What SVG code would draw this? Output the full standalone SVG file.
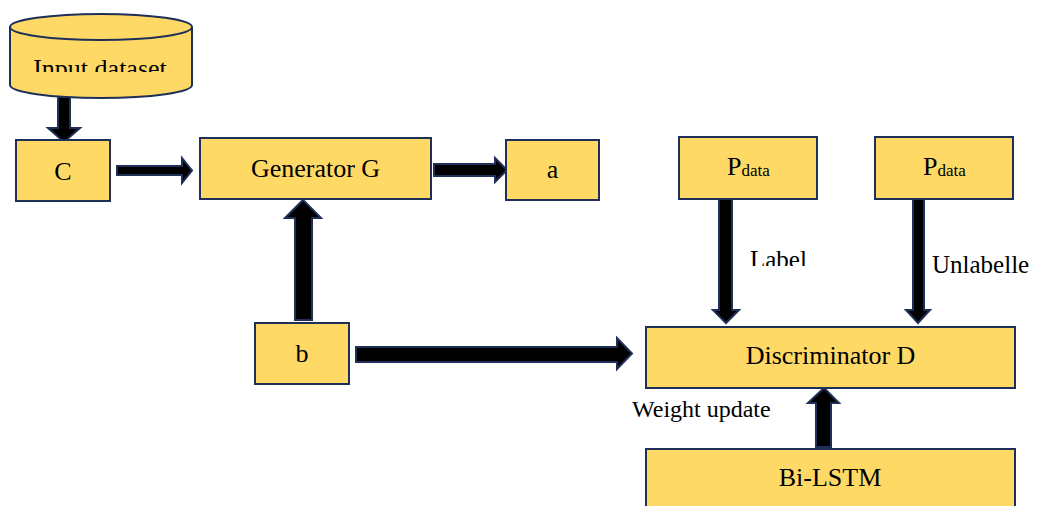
<svg xmlns="http://www.w3.org/2000/svg" width="1038" height="506" viewBox="0 0 1038 506">
  <style>
    .box { fill: #FFD966; stroke: #1F3058; stroke-width: 2; }
    .arrow { fill: #000000; stroke: #1F3058; stroke-width: 2; stroke-linejoin: miter; }
    .t { font-family: "Liberation Serif", "Times New Roman", serif; font-size: 26px; fill: #000000; }
    .sub { font-size: 17px; }
    .lbl { font-family: "Liberation Serif", "Times New Roman", serif; font-size: 25px; fill: #000000; }
  </style>
  <defs>
    <clipPath id="clip-input"><rect x="0" y="0" width="200" height="72"/></clipPath>
    <clipPath id="clip-label"><rect x="740" y="230" width="90" height="36"/></clipPath>
  </defs>
  <rect width="1038" height="506" fill="#ffffff"/>

  <!-- connectors -->
  <g id="connectors">
    <polygon class="arrow" points="58,97 70,97 70,128 80,128 64,142 48,128 58,128"/>
    <polygon class="arrow" points="117,166 182,166 182,158 192,170.5 182,183 182,175 117,175"/>
    <polygon class="arrow" points="434,164 495,164 495,158 507,170 495,182 495,176 434,176"/>
    <polygon class="arrow" points="295,320 312,320 312,218 321,218 303,200 285,218 295,218"/>
    <polygon class="arrow" points="356,347 617,347 617,338 632,353.5 617,369 617,362 356,362"/>
    <polygon class="arrow" points="719,199 732,199 732,310 739,310 726,323 713,310 719,310"/>
    <polygon class="arrow" points="913,199 924,199 924,310 930,310 918,323 906,310 913,310"/>
    <polygon class="arrow" points="816,447 831,447 831,403 839,403 824,388 808,403 816,403"/>
  </g>

  <!-- input dataset cylinder -->
  <g id="input-dataset">
    <path class="box" d="M10,27 L10,85 A91,13 0 0 0 192,85 L192,27"/>
    <ellipse class="box" cx="101" cy="27" rx="91" ry="13"/>
    <text class="t" x="100" y="77" text-anchor="middle" clip-path="url(#clip-input)">Input dataset</text>
  </g>

  <g id="node-c">
    <rect class="box" x="16" y="140" width="94" height="61"/>
    <text class="t" x="63" y="180" text-anchor="middle">C</text>
  </g>

  <g id="generator">
    <rect class="box" x="200" y="138" width="231" height="61"/>
    <text class="t" x="315.5" y="177" text-anchor="middle">Generator G</text>
  </g>

  <g id="node-a">
    <rect class="box" x="506" y="140" width="93" height="60"/>
    <text class="t" x="552.5" y="178" text-anchor="middle">a</text>
  </g>

  <g id="pdata-labelled">
    <rect class="box" x="679" y="137" width="138" height="62"/>
    <text class="t" x="727" y="175">P<tspan class="sub" dy="1">data</tspan></text>
  </g>

  <g id="pdata-unlabelled">
    <rect class="box" x="875" y="137" width="138" height="62"/>
    <text class="t" x="923" y="175">P<tspan class="sub" dy="1">data</tspan></text>
  </g>

  <g id="node-b">
    <rect class="box" x="255" y="323" width="94" height="61"/>
    <text class="t" x="302" y="362" text-anchor="middle">b</text>
  </g>

  <g id="discriminator">
    <rect class="box" x="646" y="327" width="369" height="61"/>
    <text class="t" x="830.5" y="364" text-anchor="middle">Discriminator D</text>
  </g>

  <g id="bilstm">
    <rect class="box" x="646" y="449" width="369" height="80"/>
    <text class="t" x="830" y="486" text-anchor="middle">Bi-LSTM</text>
  </g>

  <!-- edge labels -->
  <g id="labels">
    <text class="lbl" x="750" y="268" clip-path="url(#clip-label)">Label</text>
    <text class="lbl" x="932" y="273">Unlabelle</text>
    <text class="lbl" x="632" y="417" style="font-size:24px">Weight update</text>
  </g>
</svg>
